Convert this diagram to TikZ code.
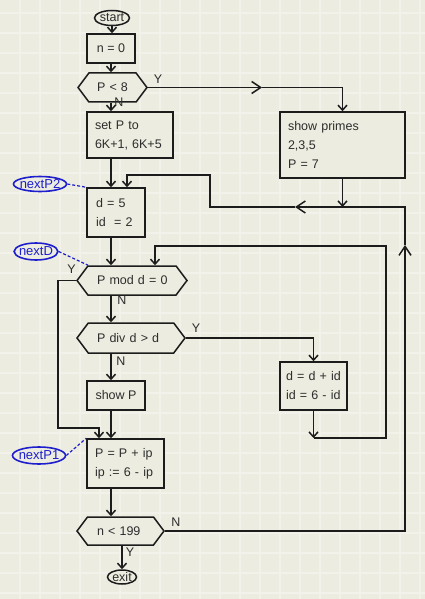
\documentclass[tikz,border=0pt]{standalone}
\usepackage{fontspec}
\setmainfont{Liberation Sans}
\usetikzlibrary{shapes.geometric,shapes.symbols,arrows.meta,positioning,calc}

\definecolor{bg}{RGB}{236,236,224}
\definecolor{gridc}{RGB}{242,242,235}
\definecolor{ink}{RGB}{28,28,28}
\definecolor{txt}{RGB}{45,45,45}
\definecolor{lbl}{RGB}{30,30,205}

\begin{document}
\begin{tikzpicture}[x=1pt, y=-1pt,
  font=\fontsize{12.5}{19}\selectfont,
  stepbox/.style={rectangle, draw=ink, fill=bg, line width=1.5pt, text=txt,
                  align=left, inner xsep=8pt, inner ysep=3pt},
  test/.style={signal, signal to=east and west, signal from=nowhere,
               signal pointer angle=106, draw=ink, fill=bg, line width=1.5pt,
               text=txt, align=left, inner xsep=2pt, inner ysep=2pt},
  term/.style={ellipse, draw=ink, fill=bg, line width=1.5pt, text=txt,
               inner xsep=-1pt, inner ysep=-3pt},
  tag/.style={ellipse, draw=lbl, fill=bg, line width=1.6pt, text=lbl,
              font=\fontsize{13}{15}\selectfont, inner xsep=-1.5pt, inner ysep=-3pt},
  tagline/.style={draw=lbl, line width=1.2pt, dash pattern=on 3pt off 2pt},
  flow/.style={draw=ink, line width=1.5pt, -{Straight Barb[length=5pt,width=9pt]}},
  mid/.style={draw=ink, line width=1.5pt, -{Straight Barb[length=9pt,width=12pt]}},
  yn/.style={text=txt, inner sep=1pt},
]
  % Sheet with grid
  \useasboundingbox (0,0) rectangle (425,599);
  \fill[bg] (0,0) rectangle (425,599);
  \foreach \gx in {20,40,...,420} \draw[gridc, line width=1.2pt] (\gx,0) -- (\gx,599);
  \foreach \gy in {13,33,...,593} \draw[gridc, line width=1.2pt] (0,\gy) -- (425,\gy);

  % Main column
  \coordinate (spine) at (111,0);

  \node[term, minimum width=35, minimum height=15] (start) at (112,18) {start};
  \node[stepbox, minimum width=48, minimum height=29] (n0) at (111,48.5) {n = 0};
  \node[test, minimum width=69, minimum height=29, text width=31] (p8) at (112.5,87.5)
       {\mbox{P < 8}};
  \node[stepbox, text width=70, minimum height=46] (setp) at (130,135) {set P to\\6K+1, 6K+5};
  \node[stepbox, text width=109, minimum height=66] (primes) at (342.5,145)
       {show primes\\2,3,5\\P = 7};
  \node[stepbox, inner xsep=9pt, text width=40, minimum height=49] (d5) at (116,212.5)
       {d = 5\\id\ \ = 2};
  \node[test, minimum width=110, minimum height=29, text width=70] (pmod) at (132,280.5)
       {\mbox{P mod d = 0}};
  \node[test, minimum width=108, minimum height=30, text width=68] (pdiv) at (131,338)
       {\mbox{P div d > d}};
  \node[stepbox, inner xsep=6pt, text width=55, minimum height=48] (did) at (313.5,386)
       {d = d + id\\id = 6 - id};
  \node[stepbox, minimum width=58, minimum height=29] (showp) at (116,395.5) {show P};
  \node[stepbox, text width=61, minimum height=49] (pinc) at (125.5,463.5)
       {P = P + ip\\ip := 6 - ip};
  \node[test, minimum width=87, minimum height=28, text width=47] (n199) at (120.5,531)
       {\mbox{n < 199}};
  \node[term, minimum width=29, minimum height=14] (exit) at (122,577) {exit};

  % Labels
  \node[tag, minimum width=53, minimum height=15] (nextP2) at (40,184) {nextP2};
  \node[tag, minimum width=42, minimum height=17] (nextD) at (36,251.5) {nextD};
  \node[tag, minimum width=47, minimum height=17] (nextP1) at (39,455.5) {nextP1};

  % Branch letters
  \node[yn] (y1) at (158,79) {Y};
  \node[yn] (n1) at (119,102) {N};
  \node[yn] (y2) at (71.5,269) {Y};
  \node[yn] (n2) at (122,300) {N};
  \node[yn] (y3) at (196,328) {Y};
  \node[yn] (n3) at (121,361) {N};
  \node[yn] (n4) at (176,522) {N};
  \node[yn] (y4) at (130,552) {Y};

  % Straight flow down the column
  \draw[flow] (start.south) -- (start.south |- n0.north);
  \draw[flow] (n0.south) -- (n0.south |- p8.north);
  \draw[flow] (p8.south -| spine) -- (setp.north -| spine);
  \draw[flow] (setp.south -| spine) -- (d5.north -| spine);
  \draw[flow] (d5.south -| spine) -- (pmod.north -| spine);
  \draw[flow] (pmod.south -| spine) -- (pdiv.north -| spine);
  \draw[flow] (pdiv.south -| spine) -- (showp.north -| spine);
  \draw[flow] (showp.south -| spine) -- (pinc.north -| spine);
  \draw[flow] (pinc.south -| spine) -- (n199.north -| spine);
  \draw[flow] (n199.south -| exit.north) -- (exit.north);

  % P < 8 : yes
  \coordinate (ymid) at (262,0);
  \draw[mid] (p8.east) -- (p8.east -| ymid);
  \draw[flow] (p8.east -| ymid) -| (primes.north);

  % Back to nextP2
  \coordinate (rarr) at (405,245);
  \coordinate (larr) at (295,207);
  \coordinate (jtop) at (210,175);
  \coordinate (jin) at (127,175);
  \draw[flow] (primes.south) -- (primes.south |- larr);
  \draw[mid] (n199.east) -| (rarr);
  \draw[mid] (rarr) |- (larr);
  \draw[flow] (larr) -| (jtop) -- (jin) -- (jin |- d5.north);

  % P mod d = 0 : yes
  \coordinate (ybend) at (58,428);
  \coordinate (yin) at (99,428);
  \draw[flow] (pmod.west) -| (ybend) -- (yin) -- (yin |- pinc.north);

  % P div d > d : yes, and back to nextD
  \coordinate (dbot) at (318,438);
  \coordinate (dret) at (386,246);
  \coordinate (din) at (155,246);
  \draw[flow] (pdiv.east) -| (did.north);
  \draw[flow] (did.south) -- (did.south |- dbot);
  \draw[flow] (did.south |- dbot) -| (dret) -- (din) -- (din |- pmod.north);

  % Label links
  \draw[tagline] (nextP2.east) -- (d5.north west);
  \draw[tagline] (nextD.east) -- ($(pmod.north -| pmod.west)+(12,0)$);
  \draw[tagline] (nextP1.east) -- (pinc.north west);
\end{tikzpicture}
\end{document}
